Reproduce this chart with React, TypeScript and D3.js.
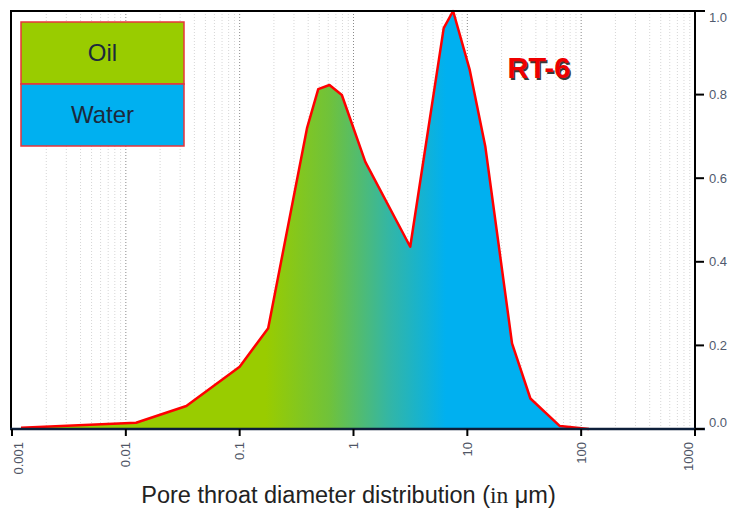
import React from "react";
import * as d3 from "d3";

const diameters = [0.0012, 0.0123, 0.034, 0.1, 0.178, 0.39, 0.49, 0.615, 0.79, 1.27, 3.15, 6.2, 7.5, 10.5, 14.4, 24.7, 35.8, 65, 117];
const values = [0.003, 0.015, 0.055, 0.149, 0.241, 0.719, 0.813, 0.823, 0.799, 0.639, 0.436, 0.959, 1.0, 0.859, 0.675, 0.205, 0.073, 0.007, 0.0];
const xTicks = [0.001, 0.01, 0.1, 1, 10, 100, 1000];
const xTickLabels = ["0.001", "0.01", "0.1", "1", "10", "100", "1000"];
const yTicks = [0, 0.2, 0.4, 0.6, 0.8, 1.0];
const yTickLabels = ["0.0", "0.2", "0.4", "0.6", "0.8", "1.0"];
const legendLabels = ["Oil", "Water"];
const legendColors = ["#99cc00", "#00b0f0"];
const sampleName = "RT-6";

const W = 734;
const H = 511;
const L = 12, R = 695, T = 11, B = 429;
const FONT = "'Liberation Sans', Arial, sans-serif";

export default function App() {
  const x = d3.scaleLog().domain([0.001, 1000]).range([L, R]);
  const y = d3.scaleLinear().domain([0, 1]).range([B, T]);
  const pts = diameters.map((d, i) => [d, values[i]] as [number, number]);
  const line = d3.line<[number, number]>().x(d => x(d[0])).y(d => y(d[1]));
  const area = d3.area<[number, number]>().x(d => x(d[0])).y0(y(0)).y1(d => y(d[1]));

  const minor: number[] = [];
  for (let i = 0; i < xTicks.length - 1; i++) {
    for (let k = 2; k <= 9; k++) minor.push(xTicks[i] * k);
  }

  return (
    <svg width={W} height={H} style={{ position: "absolute", left: 0, top: 0, background: "#fff" }}>
      <defs>
        <linearGradient id="fillGrad" gradientUnits="userSpaceOnUse" x1={x(0.17)} x2={x(6.5)} y1={0} y2={0}>
          <stop offset="0" stopColor="#99cc00" />
          <stop offset="0.35" stopColor="#70c23a" />
          <stop offset="0.68" stopColor="#34b6a4" />
          <stop offset="1" stopColor="#00b0f0" />
        </linearGradient>
      </defs>
      {/* gridlines */}
      {minor.map((m, i) => (
        <line key={"m" + i} x1={x(m)} x2={x(m)} y1={T} y2={B} stroke="#d6d6d6" strokeWidth={1} strokeDasharray="1,2" />
      ))}
      {xTicks.slice(1, -1).map((t, i) => (
        <line key={"g" + i} x1={x(t)} x2={x(t)} y1={T} y2={B} stroke="#8a8a8a" strokeWidth={1} strokeDasharray="1,2" />
      ))}
      {/* area */}
      <path d={area(pts) || ""} fill="url(#fillGrad)" />
      <path d={line(pts) || ""} fill="none" stroke="#ff0000" strokeWidth={2.5} strokeLinejoin="round" />
      {/* frame */}
      <line x1={L - 1} x2={L - 1} y1={T} y2={B} stroke="#000" strokeWidth={2} />
      <line x1={L - 2} x2={R + 10} y1={T} y2={T} stroke="#000" strokeWidth={2} />
      <line x1={R} x2={R} y1={T} y2={B + 7} stroke="#000" strokeWidth={2} />
      <line x1={L - 2} x2={R + 10} y1={B} y2={B} stroke="#0d1f3a" strokeWidth={2.5} />
      {/* x ticks */}
      {xTicks.map((t, i) => {
        const off = i === 0 ? 6 : i === xTicks.length - 1 ? -7 : 0;
        return (
          <g key={"xt" + i}>
            <line x1={x(t)} x2={x(t)} y1={B} y2={B + 7} stroke="#000" strokeWidth={2} />
            <text transform={`translate(${x(t) + off},442) rotate(-90)`} textAnchor="end" dy="0.35em"
              fontFamily={FONT} fontSize={13} fill="#4f5666">{xTickLabels[i]}</text>
          </g>
        );
      })}
      {/* y ticks */}
      {yTicks.map((t, i) => {
        const off = i === 0 ? -7 : i === yTicks.length - 1 ? 6 : 0;
        return (
          <g key={"yt" + i}>
            <line x1={R} x2={R + 9} y1={y(t)} y2={y(t)} stroke="#000" strokeWidth={2} />
            <text x={709} y={y(t) + off} dy="0.35em" fontFamily={FONT} fontSize={13} fill="#505a6e">{yTickLabels[i]}</text>
          </g>
        );
      })}
      {/* legend */}
      {legendLabels.map((lab, i) => (
        <g key={"lg" + i}>
          <rect x={21} y={22 + i * 62} width={163} height={62} fill={legendColors[i]} stroke="#e8343a" strokeWidth={1.5} />
          <text x={102.5} y={53 + i * 62} dy="0.35em" textAnchor="middle" fontFamily={FONT} fontSize={24} fill="#1c2a3c">{lab}</text>
        </g>
      ))}
      {/* title */}
      <text x={509} y={79.5} fontFamily={FONT} fontSize={29} fontWeight="bold" fill="#3a3a3a">{sampleName}</text>
      <text x={507.5} y={78} fontFamily={FONT} fontSize={29} fontWeight="bold" fill="#ee0000">{sampleName}</text>
      {/* x axis title */}
      <text x={348.5} y={503} textAnchor="middle" fontFamily={FONT} fontSize={23.5} fill="#222">
        Pore throat diameter distribution (<tspan fontFamily="'Liberation Serif', 'Times New Roman', serif">in</tspan> μm)
      </text>
    </svg>
  );
}
